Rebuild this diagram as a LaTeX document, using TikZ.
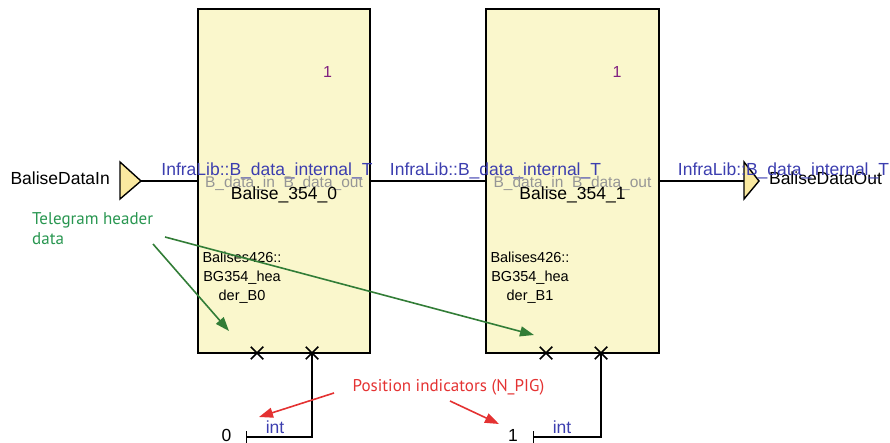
\documentclass[tikz,border=0pt]{standalone}
\usepackage{fontspec}
\setmainfont{Liberation Sans}
\newfontfamily\notefont{PT Sans}
\usetikzlibrary{arrows.meta,shapes.misc}

\definecolor{blockfill}{RGB}{250,247,204}
\definecolor{portfill}{RGB}{250,233,160}
\definecolor{typeblue}{RGB}{60,62,175}
\definecolor{portgrey}{RGB}{150,150,150}
\definecolor{multpurple}{RGB}{128,32,128}
\definecolor{notegreen}{RGB}{40,150,80}
\definecolor{arrowgreen}{RGB}{50,125,55}
\definecolor{notered}{RGB}{228,50,50}

\tikzset{
  block/.style={draw=black, line width=1.6pt, fill=blockfill, inner sep=0pt,
                minimum width=172pt, minimum height=344pt},
  port/.style={draw=black, line width=1.4pt, fill=portfill, line join=miter},
  wire/.style={draw=black, line width=1.6pt},
  xmark/.style={cross out, draw=black, line width=1.5pt, minimum size=11pt, inner sep=0pt},
  lbl/.style={inner sep=0pt, font=\fontsize{17.5pt}{19pt}\selectfont},
  typelbl/.style={lbl, text=typeblue},
  pinlbl/.style={inner sep=0pt, text=portgrey, font=\fontsize{15.5pt}{17pt}\selectfont},
  partlbl/.style={inner sep=0pt, align=center, font=\fontsize{14.5pt}{19pt}\selectfont},
  multlbl/.style={inner sep=0pt, text=multpurple, font=\fontsize{16pt}{18pt}\selectfont},
  greennote/.style={inner sep=0pt, text=notegreen, align=left, font=\notefont\fontsize{17pt}{20pt}\selectfont},
  rednote/.style={inner sep=0pt, text=notered, font=\notefont\fontsize{17pt}{20pt}\selectfont},
  greenarrow/.style={draw=arrowgreen, line width=1.6pt, -{Triangle[length=14pt,width=10pt]}},
  redarrow/.style={draw=notered, line width=1.6pt, -{Triangle[length=14pt,width=10pt]}},
}

\begin{document}
\begin{tikzpicture}[x=1pt,y=-1pt]
\useasboundingbox (0,0) rectangle (890,443);

% the two balise parts
\node[block] (b0) at (284,181) {};
\node[block, minimum width=173pt] (b1) at (572.5,181) {};

% multiplicities
\node[multlbl] (m0) at (327.5,72.5) {1};
\node[multlbl] (m1) at (617,72.5) {1};

% in and out ports of the composite
\draw[port] (120,162) -- (141,181) -- (120,199) -- cycle;
\coordinate (inTip) at (141,181);
\draw[port] (744,162) -- (759,181) -- (744,199) -- cycle;
\coordinate (outBase) at (744,181);

% data flow wires
\draw[wire] (inTip) -- (b0.west);
\draw[wire] (b0.east) -- (b1.west);
\draw[wire] (b1.east) -- (outBase);

% port and type labels
\node[lbl, anchor=east] (inName) at (110,178) {BaliseDataIn};
\node[lbl] (outName) at (825.5,178) {BaliseDataOut};
\node[typelbl] (t0) at (267,170.5) {InfraLib::B\_data\_internal\_T};
\node[typelbl] (t1) at (495.5,170.5) {InfraLib::B\_data\_internal\_T};
\node[typelbl] (t2) at (783.5,170.5) {InfraLib::B\_data\_internal\_T};

\node[pinlbl] (p0) at (284,183) {B\_data\_in\ \ B\_data\_out};
\node[pinlbl] (p1) at (572.5,183) {B\_data\_in\ \ B\_data\_out};

\node[lbl] (n0) at (284,195) {Balise\_354\_0};
\node[lbl] (n1) at (572.5,195) {Balise\_354\_1};

\node[partlbl] (h0) at (242,277.5) {Balises426::\\BG354\_hea\\der\_B0};
\node[partlbl] (h1) at (530,277.5) {Balises426::\\BG354\_hea\\der\_B1};

% N_PIG input pins
\node[xmark] (x00) at (257,353) {};
\node[xmark] (x01) at (312,353) {};
\node[xmark] (x10) at (546,353) {};
\node[xmark] (x11) at (601,353) {};

\coordinate (c0) at (246,437);
\coordinate (c1) at (533,437);
\draw[wire, -{Bar[width=12pt,line width=1.4pt]}] (x01.center) |- (c0);
\draw[wire, -{Bar[width=12pt,line width=1.4pt]}] (x11.center) |- (c1);

\node[lbl, anchor=base] (v0) at (226.5,441) {0};
\node[lbl, anchor=base] (v1) at (513,441) {1};
\node[typelbl] (i0) at (275,427) {int};
\node[typelbl] (i1) at (562,427) {int};

% annotations
\node[greennote, anchor=west] (tel) at (32,228.5) {Telegram header\\data};
\coordinate (g0s) at (153,244);
\coordinate (g0e) at (229,331);
\coordinate (g1s) at (165,237);
\coordinate (g1e) at (534,335);
\draw[greenarrow] (g0s) -- (g0e);
\draw[greenarrow] (g1s) -- (g1e);

\node[rednote] (pos) at (448.5,387) {Position indicators (N\_PIG)};
\coordinate (r0s) at (334,393);
\coordinate (r0e) at (259,417);
\coordinate (r1s) at (450,401);
\coordinate (r1e) at (499,424);
\draw[redarrow] (r0s) -- (r0e);
\draw[redarrow] (r1s) -- (r1e);
\end{tikzpicture}
\end{document}
